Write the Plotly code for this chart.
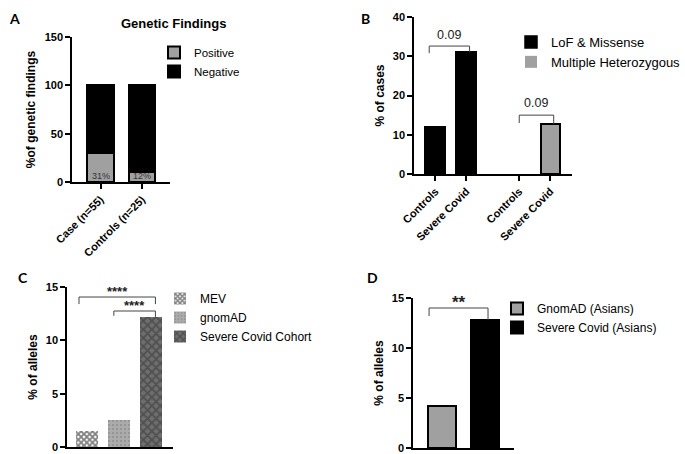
import plotly.graph_objects as go

# ---------------- data ----------------
# Panel A
a_categories = ["Case (n=55)", "Controls (n=25)"]
a_positive = [30, 10]
a_total = [100, 100]
a_labels = ["31%", "12%"]

# Panel B
b_tick_labels = ["Controls", "Severe Covid", "Controls", "Severe Covid"]
b_lof = [12, 31]
b_multi = [0, 12.7]
b_pvalues = ["0.09", "0.09"]

# Panel C
c_series = ["MEV", "gnomAD", "Severe Covid Cohort"]
c_values = [1.5, 2.5, 12.2]
c_stars = ["****", "****"]

# Panel D
d_series = ["GnomAD (Asians)", "Severe Covid (Asians)"]
d_values = [4.2, 12.8]
d_stars = ["**"]

# ---------------- layout helpers ----------------
W, H = 685, 454
def px(x):
    return x / W
def py(y):
    return 1 - y / H

FONT = "Liberation Sans, Arial, sans-serif"
GRAY = "#a0a0a0"

fig = go.Figure()

# ---- Panel A (stacked) ----
a_pos = [0, 1]
a_negative = [t - p for t, p in zip(a_total, a_positive)]
fig.add_trace(go.Bar(
    x=a_pos, y=a_positive, name="Positive", width=0.65,
    marker=dict(color=GRAY, line=dict(color="black", width=2)),
    xaxis="x", yaxis="y", legend="legend"))
fig.add_trace(go.Bar(
    x=a_pos, y=a_negative, name="Negative", width=0.65,
    marker=dict(color="black", line=dict(color="black", width=2)),
    xaxis="x", yaxis="y", legend="legend", hoverinfo="skip"))
for xp, lab in zip(a_pos, a_labels):
    fig.add_annotation(x=xp, y=6.5, xref="x", yref="y", text=lab, showarrow=False,
                       yanchor="middle", font=dict(size=9, color="#333", family=FONT))

# ---- Panel B ----
b_pos_lof = [0, 1]
b_pos_multi = [2.7, 3.7]
fig.add_trace(go.Bar(
    x=b_pos_lof, y=b_lof, name="LoF & Missense", width=0.68,
    marker=dict(color="black", line=dict(color="black", width=1.5)),
    xaxis="x2", yaxis="y2", legend="legend2"))
fig.add_trace(go.Bar(
    x=b_pos_multi, y=b_multi, name="Multiple Heterozygous", width=0.62,
    marker=dict(color=GRAY, line=dict(color="black", width=[0 if v == 0 else 2 for v in b_multi])),
    xaxis="x2", yaxis="y2", legend="legend2"))

# ---- Panel C (patterned) ----
c_patterns = [
    dict(shape="x", fgcolor="black", bgcolor="white", size=4, solidity=0.7),
    dict(shape=".", fgcolor="#707070", bgcolor="#ababab", size=4, solidity=0.2),
    dict(shape="x", fgcolor="#303030", bgcolor="#6e6e6e", size=6, solidity=0.5),
]
for i, (name, val) in enumerate(zip(c_series, c_values)):
    fig.add_trace(go.Bar(
        x=[i], y=[val], name=name, width=0.69,
        marker=dict(color="white", pattern=c_patterns[i], line=dict(width=0)),
        xaxis="x3", yaxis="y3", legend="legend3"))

# ---- Panel D ----
d_colors = [GRAY, "black"]
for i, (name, val) in enumerate(zip(d_series, d_values)):
    fig.add_trace(go.Bar(
        x=[i], y=[val], name=name, width=0.65,
        marker=dict(color=d_colors[i], line=dict(color="black", width=2)),
        xaxis="x4", yaxis="y4", legend="legend4"))

# ---- significance brackets ----
def bracket(xa, ya, x0, x1, top, leg0, leg1, label, label_y, fsize, bold=False):
    fig.add_trace(go.Scatter(
        x=[x0, x0, x1, x1], y=[leg0, top, top, leg1], mode="lines",
        line=dict(color="#444", width=1), showlegend=False, hoverinfo="skip",
        xaxis=xa, yaxis=ya))
    fig.add_annotation(x=(x0 + x1) / 2, y=label_y, xref=xa, yref=ya,
                       text=("<b>%s</b>" % label) if bold else label,
                       showarrow=False, yanchor="middle",
                       font=dict(size=fsize, color="#222", family=FONT))

bracket("x2", "y2", b_pos_lof[0] - 0.2, b_pos_lof[1] + 0.1, 32.6, 30.8, b_lof[1], b_pvalues[0], 35.5, 12.5)
bracket("x2", "y2", b_pos_multi[0], b_pos_multi[1] + 0.11, 15, 13, b_multi[1], b_pvalues[1], 18, 12.5)
bracket("x3", "y3", -0.25, 2.14, 14.06, 13.4, 13.4, c_stars[0], 14.6, 13, True)
bracket("x3", "y3", 0.84, 2.14, 12.75, 12.3, c_values[2], c_stars[1], 13.3, 13, True)
bracket("x4", "y4", -0.3, 1.07, 14.0, 13.2, d_values[1], d_stars[0], 14.6, 17, True)

# ---------------- axes ----------------
axis_common = dict(showline=True, linecolor="black", linewidth=1.5,
                   ticklen=5, tickwidth=1.5, tickcolor="black", showgrid=False,
                   zeroline=False, automargin=False,
                   tickfont=dict(size=11, color="black", family=FONT, weight="bold"))
ytitle_font = dict(size=12, color="black", family=FONT, weight="bold")

fig.update_layout(
    width=W, height=H, margin=dict(l=0, r=0, t=0, b=0, autoexpand=False),
    paper_bgcolor="white", plot_bgcolor="white",
    barmode="stack", bargap=0,
    font=dict(family=FONT, color="black"),
    xaxis=dict(domain=[px(72), px(170)], range=[-0.687, 1.675], anchor="y", ticks="outside",
               tickvals=a_pos, ticktext=a_categories, tickangle=-45, **axis_common),
    yaxis=dict(domain=[py(182), py(37)], range=[0, 150], anchor="x", ticks="outside",
               tickvals=[0, 50, 100, 150],
               title=dict(text="%of genetic findings", font=ytitle_font, standoff=6),
               **axis_common),
    xaxis2=dict(domain=[px(414), px(572)], range=[-0.69, 4.40], anchor="y2", ticks="outside",
                tickvals=b_pos_lof + b_pos_multi, ticktext=b_tick_labels, tickangle=-45,
                **axis_common),
    yaxis2=dict(domain=[py(174), py(17)], range=[0, 40], anchor="x2", ticks="outside",
                tickvals=[0, 10, 20, 30, 40],
                title=dict(text="% of cases", font=ytitle_font, standoff=6),
                **axis_common),
    xaxis3=dict(domain=[px(67), px(173)], range=[-0.625, 2.69], anchor="y3", ticks="",
                showticklabels=False, **axis_common),
    yaxis3=dict(domain=[py(447), py(287)], range=[0, 15], anchor="x3", ticks="outside",
                tickvals=[0, 5, 10, 15],
                title=dict(text="% of alleles", font=ytitle_font, standoff=6),
                **axis_common),
    xaxis4=dict(domain=[px(413), px(514)], range=[-0.674, 1.674], anchor="y4", ticks="",
                showticklabels=False, **axis_common),
    yaxis4=dict(domain=[py(448), py(298)], range=[0, 15], anchor="x4", ticks="outside",
                tickvals=[0, 5, 10, 15],
                title=dict(text="% of alleles", font=ytitle_font, standoff=6),
                **axis_common),
)

def legend_style(x_text, y_top, size):
    return dict(x=px(x_text - 42), y=py(y_top),
                font=dict(size=size, color="black", family=FONT), bgcolor="rgba(0,0,0,0)",
                traceorder="normal", xanchor="left", yanchor="top", borderwidth=0)

fig.update_layout(
    legend=legend_style(196, 38, 11.5),
    legend2=legend_style(553, 27, 13),
    legend3=legend_style(202, 284, 12),
    legend4=legend_style(539, 294, 12),
)

# ---------------- titles / panel letters ----------------
fig.add_annotation(x=px(119), y=py(14), xref="paper", yref="paper", text="<b>Genetic Findings</b>",
                   showarrow=False, font=dict(size=13, color="black", family=FONT))
for letter, (lx, ly) in zip(["A", "B", "C", "D"], [(7, 8), (365, 8), (16, 277), (372, 277)]):
    fig.add_annotation(x=px(lx), y=py(ly), xref="paper", yref="paper", text="<b>%s</b>" % letter,
                       showarrow=False, font=dict(size=14, color="black", family="Lato, sans-serif"))

fig.write_html("out.html", config={"displayModeBar": False},
               post_script="document.body.style.margin='0';document.body.style.overflow='hidden';")
